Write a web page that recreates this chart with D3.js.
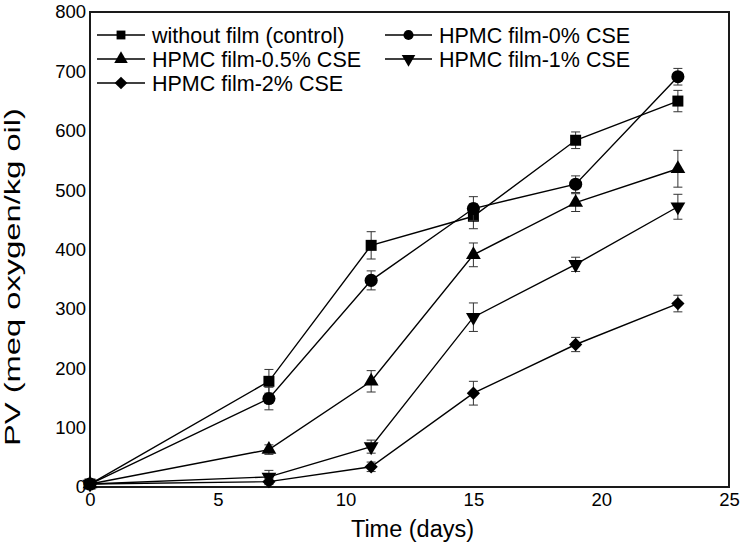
<!DOCTYPE html>
<html>
<head>
<meta charset="utf-8">
<script src="https://cdn.jsdelivr.net/npm/d3@7"></script>
<style>
  html, body { margin: 0; padding: 0; background: #fff; }
  text { font-family: Arial, "Liberation Sans", sans-serif; fill: #000; }
</style>
</head>
<body>
<svg id="chart" width="743" height="548"></svg>
<script>
// ---- data ----
const days = [0, 7, 11, 15, 19, 23];
const seriesNames = ["without film (control)", "HPMC film-0% CSE", "HPMC film-0.5% CSE", "HPMC film-1% CSE", "HPMC film-2% CSE"];
const controlValues = [5, 178, 407, 456, 584, 650];
const controlErrors = [2, 20, 23, 21, 14, 18];
const hpmc0Values = [5, 149, 348, 469, 510, 691];
const hpmc0Errors = [2, 19, 16, 20, 14, 14];
const hpmc05Values = [5, 63, 178, 391, 479, 536];
const hpmc05Errors = [2, 8, 18, 20, 15, 31];
const hpmc1Values = [5, 17, 68, 286, 375, 472];
const hpmc1Errors = [2, 11, 11, 24, 12, 21];
const hpmc2Values = [5, 9, 34, 158, 240, 309];
const hpmc2Errors = [2, 5, 8, 20, 12, 14];
const xTicks = [0, 5, 10, 15, 20, 25];
const yTicks = [0, 100, 200, 300, 400, 500, 600, 700, 800];

const markerTypes = ["square", "circle", "triangle", "triangleDown", "diamond"];
const allValues = [controlValues, hpmc0Values, hpmc05Values, hpmc1Values, hpmc2Values];
const allErrors = [controlErrors, hpmc0Errors, hpmc05Errors, hpmc1Errors, hpmc2Errors];

const series = seriesNames.map((name, i) => ({
  name, marker: markerTypes[i],
  points: days.map((d, j) => ({ x: d, y: allValues[i][j], e: allErrors[i][j] }))
}));

// ---- layout ----
const svg = d3.select("#chart");
const pLeft = 90, pRight = 729, pTop = 12, pBottom = 487;
const x = d3.scaleLinear().domain([0, 25]).range([pLeft, pRight]);
const y = d3.scaleLinear().domain([0, 800]).range([pBottom, pTop]);

function symbolPath(type, big) {
  const sizes = big
    ? { square: 121, circle: 135, triangle: 95, triangleDown: 95, diamond: 88 }
    : { square: 78, circle: 80, triangle: 80, triangleDown: 80, diamond: 80 };
  const map = { square: d3.symbolSquare, circle: d3.symbolCircle, triangle: d3.symbolTriangle,
                triangleDown: d3.symbolTriangle, diamond: d3.symbolSquare };
  return d3.symbol().type(map[type]).size(sizes[type])();
}
function symbolRotate(type) {
  if (type === "triangleDown") return " rotate(180)";
  if (type === "diamond") return " rotate(45)";
  return "";
}

// ---- axes (labels only, no tick marks) ----
const xAxis = d3.axisBottom(x).tickValues(xTicks).tickSize(0).tickPadding(6);
const yAxis = d3.axisLeft(y).tickValues(yTicks).tickSize(0).tickPadding(4);
const gx = svg.append("g").attr("transform", `translate(0,${pBottom})`).call(xAxis);
const gy = svg.append("g").attr("transform", `translate(${pLeft},0)`).call(yAxis);
[gx, gy].forEach(g => {
  g.select(".domain").remove();
  g.selectAll("text").style("font-size", "18.5px").style("font-family", "Arial, 'Liberation Sans', sans-serif").attr("fill", "#000");
});

// frame
svg.append("rect").attr("x", pLeft).attr("y", pTop).attr("width", pRight - pLeft).attr("height", pBottom - pTop)
  .attr("fill", "none").attr("stroke", "#1a1a1a").attr("stroke-width", 2);

// ---- series ----
const line = d3.line().x(d => x(d.x)).y(d => y(d.y));
const plot = svg.append("g");
series.forEach(s => {
  plot.append("path").datum(s.points).attr("d", line).attr("fill", "none")
    .attr("stroke", "#000").attr("stroke-width", 1.4);
});
series.forEach(s => {
  const g = plot.append("g");
  s.points.forEach(p => {
    if (p.x === 0) return;
    const cx = x(p.x);
    g.append("line").attr("x1", cx).attr("x2", cx).attr("y1", y(p.y - p.e)).attr("y2", y(p.y + p.e))
      .attr("stroke", "#333").attr("stroke-width", 1);
    [p.y - p.e, p.y + p.e].forEach(v => {
      g.append("line").attr("x1", cx - 4.5).attr("x2", cx + 4.5).attr("y1", y(v)).attr("y2", y(v))
        .attr("stroke", "#333").attr("stroke-width", 1);
    });
  });
  g.selectAll("path.m").data(s.points).enter().append("path").attr("class", "m")
    .attr("d", symbolPath(s.marker, true))
    .attr("transform", d => `translate(${x(d.x)},${y(d.y)})${symbolRotate(s.marker)}`)
    .attr("fill", "#000");
});

// ---- legend ----
const legendPos = [
  { lx1: 97, lx2: 145, ty: 35 }, { lx1: 385, lx2: 432, ty: 35 },
  { lx1: 97, lx2: 145, ty: 59 }, { lx1: 385, lx2: 432, ty: 59 },
  { lx1: 97, lx2: 145, ty: 83 }
];
const legend = svg.append("g");
series.forEach((s, i) => {
  const p = legendPos[i];
  const g = legend.append("g");
  g.append("line").attr("x1", p.lx1).attr("x2", p.lx2).attr("y1", p.ty).attr("y2", p.ty)
    .attr("stroke", "#000").attr("stroke-width", 1.4);
  const mx = (p.lx1 + p.lx2) / 2;
  g.append("path").attr("d", symbolPath(s.marker, false))
    .attr("transform", `translate(${mx},${p.ty})${symbolRotate(s.marker)}`).attr("fill", "#000");
  g.append("text").attr("x", p.lx2 + 7).attr("y", p.ty + 7.5)
    .style("font-size", "21.5px").text(s.name);
});

// ---- axis titles ----
svg.append("text").attr("x", (pLeft + pRight) / 2 + 3).attr("y", 537).attr("text-anchor", "middle")
  .style("font-size", "23.5px").text("Time (days)");
svg.append("text").attr("transform", `translate(20,277) rotate(-90)`).attr("text-anchor", "middle")
  .attr("textLength", 338).attr("lengthAdjust", "spacingAndGlyphs")
  .style("font-size", "22.5px").text("PV (meq oxygen/kg oil)");
</script>
</body>
</html>
